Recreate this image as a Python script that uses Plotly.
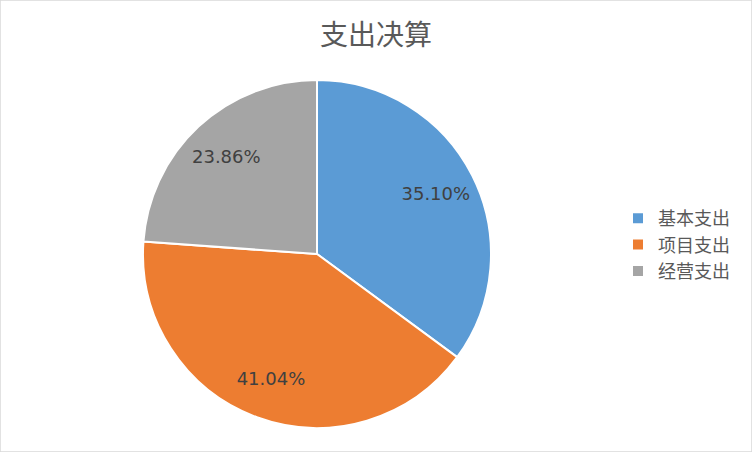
import plotly.graph_objects as go

labels = ['基本支出', '项目支出', '经营支出']
values = [35.10, 41.04, 23.86]
colors = ['#5B9BD5', '#ED7D31', '#A5A5A5']

W, H = 752, 452
pie_domain = dict(x=[(317 - 174) / W, (317 + 174) / W], y=[24 / H, 372 / H])

fig = go.Figure()

# filled slices
fig.add_trace(go.Pie(
    labels=labels,
    values=values,
    sort=False,
    direction='clockwise',
    rotation=0,
    marker=dict(colors=colors, line=dict(color='white', width=2)),
    textinfo='none',
    hoverinfo='label+percent',
    domain=pie_domain,
))

# transparent ring on top, only to push the labels outwards like Excel does
fig.add_trace(go.Pie(
    labels=labels,
    values=values,
    sort=False,
    direction='clockwise',
    rotation=0,
    hole=0.53,
    marker=dict(colors=['rgba(0,0,0,0)'] * 3, line=dict(width=0)),
    texttemplate='%{value:.2f}%',
    textposition='inside',
    insidetextorientation='horizontal',
    textfont=dict(family='DejaVu Sans', size=18, color='#404040'),
    hoverinfo='skip',
    showlegend=False,
    domain=pie_domain,
))

fig.update_layout(
    width=W, height=H,
    margin=dict(l=0, r=0, t=0, b=0),
    paper_bgcolor='white',
    title=dict(text='支出决算', x=0.5, xanchor='center', y=1 - 35 / H, yanchor='middle',
               font=dict(family='Noto Sans CJK SC', size=28, color='#595959')),
    legend=dict(x=618 / W, y=1 - 200 / H, xanchor='left', yanchor='top',
                font=dict(family='Noto Sans CJK SC', size=18, color='#595959'),
                itemwidth=30),
    shapes=[dict(type='rect', xref='paper', yref='paper', x0=0, y0=0, x1=1, y1=1,
                 line=dict(color='#D9D9D9', width=1.5))],
)

fig.write_html('out.html', config={'displayModeBar': False},
               post_script="document.body.style.margin='0';")
